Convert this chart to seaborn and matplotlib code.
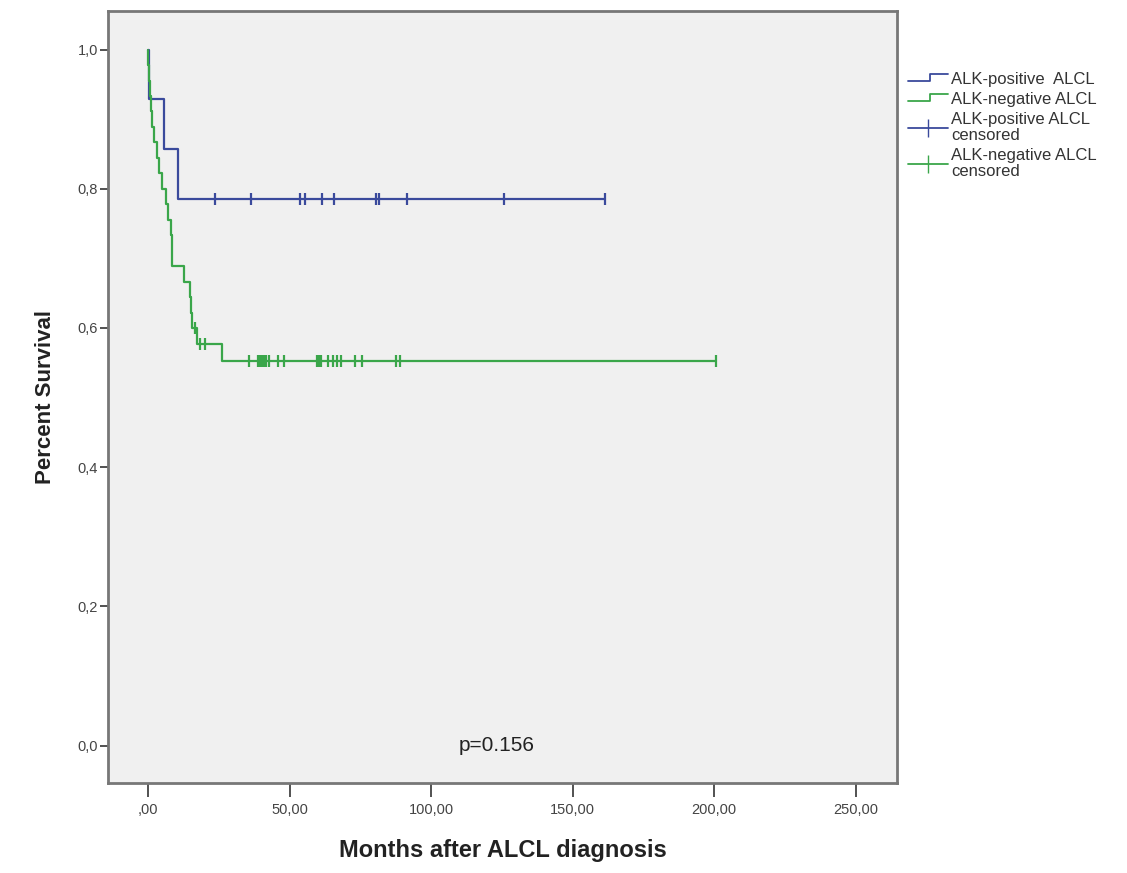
import numpy as np
import pandas as pd
import seaborn as sns
import matplotlib.pyplot as plt
from matplotlib.lines import Line2D
from matplotlib.legend_handler import HandlerLine2D
from matplotlib.ticker import FuncFormatter

# ALK-positive ALCL: event times and censored times (months)
pos_events = [0.3, 5.6, 10.6]
pos_censored = [23.5, 36.5, 53.8, 55.5, 61.6, 65.7, 80.5, 81.5, 91.5, 125.7, 161.4]

# ALK-negative ALCL
neg_events = [0.1, 0.3, 0.8, 1.1, 1.5, 2.2, 3.0, 3.9, 5.0, 6.2, 7.0, 8.0, 8.3, 8.6,
              12.7, 14.7, 15.2, 15.6, 17.4, 26.1]
neg_censored = [16.5, 18.5, 20.0,
                35.6, 38.7, 39.5, 40.1, 40.8, 41.5, 42.6, 45.8, 47.9, 59.5, 60.2,
                60.8, 61.0, 63.7, 65.5, 66.9, 68.0, 73.2, 75.4, 87.7, 89.1, 200.7]

groups = ['ALK-positive  ALCL', 'ALK-negative ALCL']
colors = ['#3a4a9c', '#3aa64a']
x_ticks = [0, 50, 100, 150, 200, 250]
y_ticks = [0.0, 0.2, 0.4, 0.6, 0.8, 1.0]


def km(events, censored):
    t = np.array(list(events) + list(censored))
    e = np.array([1] * len(events) + [0] * len(censored))
    order = np.lexsort((1 - e, t))
    t, e = t[order], e[order]
    n = len(t)
    s = 1.0
    steps_t, steps_s = [0.0], [1.0]
    cens_t, cens_s = [], []
    for i in range(n):
        at_risk = n - i
        if e[i] == 1:
            s = s * (1 - 1 / at_risk)
            steps_t.append(t[i])
            steps_s.append(s)
        else:
            cens_t.append(t[i])
            cens_s.append(s)
    steps_t.append(max(t))
    steps_s.append(s)
    return (pd.DataFrame({'t': steps_t, 's': steps_s}),
            pd.DataFrame({'t': cens_t, 's': cens_s}))


class StepHandler(HandlerLine2D):
    # legend icon drawn as a small step, like the SPSS survival legend
    def create_artists(self, legend, orig_handle, xdescent, ydescent,
                       width, height, fontsize, trans):
        y0 = height * 0.2 - ydescent
        y1 = height * 0.85 - ydescent
        xs = [-xdescent, -xdescent + width * 0.55, -xdescent + width * 0.55, -xdescent + width]
        ys = [y0, y0, y1, y1]
        line = Line2D(xs, ys, color=orig_handle.get_color(), lw=orig_handle.get_linewidth())
        line.set_transform(trans)
        return [line]


sns.set_style('white')
plt.rcParams['font.family'] = ['Liberation Sans', 'DejaVu Sans']
fig = plt.figure(figsize=(11.27, 8.73), dpi=100)
ax = fig.add_axes([0.0958, 0.103, 0.700, 0.884])
ax.set_facecolor('#f0f0f0')

for name, ev, ce, col in [(groups[0], pos_events, pos_censored, colors[0]),
                          (groups[1], neg_events, neg_censored, colors[1])]:
    curve, cens = km(ev, ce)
    sns.lineplot(data=curve, x='t', y='s', drawstyle='steps-post', color=col,
                 lw=1.6, ax=ax, estimator=None, sort=False)
    sns.scatterplot(data=cens, x='t', y='s', marker='|', s=70, linewidth=1.6,
                    color=col, ax=ax, zorder=3)

ax.set_xlim(-14.2, 264.6)
ax.set_ylim(-0.054, 1.055)
ax.set_xticks(x_ticks)
ax.set_yticks(y_ticks)
ax.xaxis.set_major_formatter(FuncFormatter(
    lambda v, p: ',00' if v == 0 else f'{v:.2f}'.replace('.', ',')))
ax.yaxis.set_major_formatter(FuncFormatter(lambda v, p: f'{v:.1f}'.replace('.', ',')))
ax.tick_params(axis='x', bottom=True, direction='out', length=10, width=1.2,
               color='#333333', labelsize=10.5, pad=4, labelcolor='#444444')
ax.tick_params(axis='y', left=True, direction='out', length=6, width=1.2,
               color='#333333', labelsize=10.5, pad=1, labelcolor='#444444')
for sp in ax.spines.values():
    sp.set_color('#777777')
    sp.set_linewidth(2)

ax.set_xlabel('Months after ALCL diagnosis', fontsize=17, fontweight='bold', labelpad=16,
              color='#222222')
ax.set_ylabel('Percent Survival', fontsize=16, fontweight='bold', labelpad=16,
              color='#222222')

ax.text(123, 0.0, 'p=0.156', fontsize=15, ha='center', va='center', color='#222222')

handles = [Line2D([], [], color=colors[0], lw=1.3),
           Line2D([], [], color=colors[1], lw=1.3),
           Line2D([], [], color=colors[0], lw=1.3, marker='|', markersize=13),
           Line2D([], [], color=colors[1], lw=1.3, marker='|', markersize=13)]
labels = ['ALK-positive  ALCL', 'ALK-negative ALCL',
          'ALK-positive ALCL\ncensored', 'ALK-negative ALCL\ncensored']
leg = fig.legend(handles, labels, loc='upper left', bbox_to_anchor=(0.792, 0.935),
                 frameon=False, fontsize=12, handlelength=2.4, handletextpad=0.2,
                 labelspacing=0.3,
                 handler_map={handles[0]: StepHandler(), handles[1]: StepHandler()})
for t in leg.get_texts():
    t.set_color('#333333')
    t.set_linespacing(1.1)

fig.savefig('out.png', dpi=100, facecolor='white')
